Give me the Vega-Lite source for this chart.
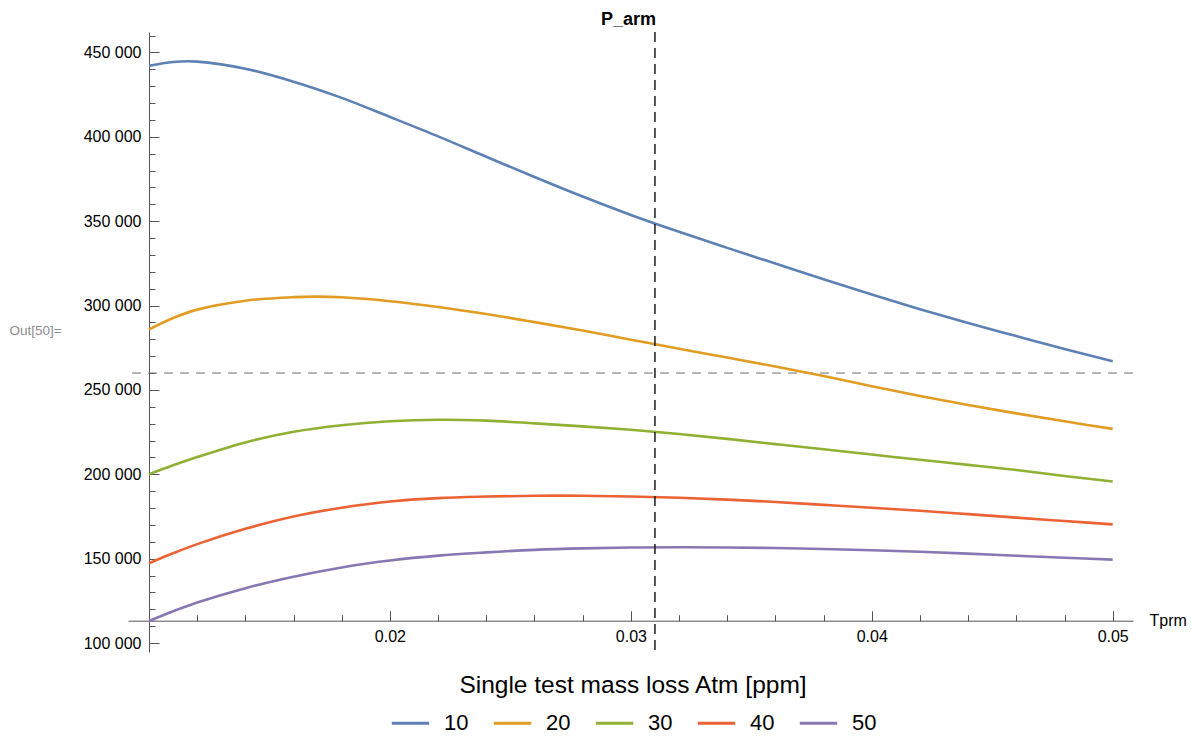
{
  "$schema": "https://vega.github.io/schema/vega-lite/v6.json",
  "width": 1005,
  "height": 620,
  "autosize": "none",
  "padding": {"left": 128, "top": 32, "right": 58, "bottom": 86},
  "background": "white",
  "config": {"view": {"stroke": null}, "axis": {"grid": false}, "font": "Liberation Sans"},
  "datasets": {
    "curves": [
      {"Tprm":0.010,"P":442100,"Atm":"10"},{"Tprm":0.011,"P":444400,"Atm":"10"},{"Tprm":0.012,"P":444600,"Atm":"10"},{"Tprm":0.014,"P":440400,"Atm":"10"},{"Tprm":0.016,"P":432700,"Atm":"10"},{"Tprm":0.018,"P":423100,"Atm":"10"},{"Tprm":0.020,"P":411800,"Atm":"10"},{"Tprm":0.022,"P":400300,"Atm":"10"},{"Tprm":0.024,"P":388200,"Atm":"10"},{"Tprm":0.026,"P":376200,"Atm":"10"},{"Tprm":0.028,"P":364600,"Atm":"10"},{"Tprm":0.030,"P":353700,"Atm":"10"},{"Tprm":0.032,"P":343700,"Atm":"10"},{"Tprm":0.034,"P":334200,"Atm":"10"},{"Tprm":0.036,"P":324900,"Atm":"10"},{"Tprm":0.038,"P":315600,"Atm":"10"},{"Tprm":0.040,"P":306500,"Atm":"10"},{"Tprm":0.042,"P":297800,"Atm":"10"},{"Tprm":0.044,"P":289600,"Atm":"10"},{"Tprm":0.046,"P":281900,"Atm":"10"},{"Tprm":0.048,"P":274300,"Atm":"10"},{"Tprm":0.050,"P":267000,"Atm":"10"},
      {"Tprm":0.010,"P":285800,"Atm":"20"},{"Tprm":0.011,"P":292600,"Atm":"20"},{"Tprm":0.012,"P":297600,"Atm":"20"},{"Tprm":0.014,"P":302900,"Atm":"20"},{"Tprm":0.016,"P":305000,"Atm":"20"},{"Tprm":0.017,"P":305300,"Atm":"20"},{"Tprm":0.018,"P":304900,"Atm":"20"},{"Tprm":0.020,"P":302600,"Atm":"20"},{"Tprm":0.022,"P":299200,"Atm":"20"},{"Tprm":0.024,"P":295000,"Atm":"20"},{"Tprm":0.026,"P":290200,"Atm":"20"},{"Tprm":0.028,"P":285200,"Atm":"20"},{"Tprm":0.030,"P":279800,"Atm":"20"},{"Tprm":0.032,"P":274400,"Atm":"20"},{"Tprm":0.034,"P":269200,"Atm":"20"},{"Tprm":0.036,"P":263900,"Atm":"20"},{"Tprm":0.038,"P":258200,"Atm":"20"},{"Tprm":0.040,"P":252200,"Atm":"20"},{"Tprm":0.042,"P":246400,"Atm":"20"},{"Tprm":0.044,"P":241100,"Atm":"20"},{"Tprm":0.046,"P":236100,"Atm":"20"},{"Tprm":0.048,"P":231400,"Atm":"20"},{"Tprm":0.050,"P":226900,"Atm":"20"},
      {"Tprm":0.010,"P":200000,"Atm":"30"},{"Tprm":0.011,"P":205300,"Atm":"30"},{"Tprm":0.012,"P":210200,"Atm":"30"},{"Tprm":0.014,"P":218900,"Atm":"30"},{"Tprm":0.016,"P":225200,"Atm":"30"},{"Tprm":0.018,"P":229100,"Atm":"30"},{"Tprm":0.020,"P":231400,"Atm":"30"},{"Tprm":0.022,"P":232300,"Atm":"30"},{"Tprm":0.024,"P":231800,"Atm":"30"},{"Tprm":0.026,"P":230200,"Atm":"30"},{"Tprm":0.028,"P":228400,"Atm":"30"},{"Tprm":0.030,"P":226400,"Atm":"30"},{"Tprm":0.032,"P":223900,"Atm":"30"},{"Tprm":0.034,"P":221000,"Atm":"30"},{"Tprm":0.036,"P":217900,"Atm":"30"},{"Tprm":0.038,"P":214800,"Atm":"30"},{"Tprm":0.040,"P":211700,"Atm":"30"},{"Tprm":0.042,"P":208600,"Atm":"30"},{"Tprm":0.044,"P":205600,"Atm":"30"},{"Tprm":0.046,"P":202500,"Atm":"30"},{"Tprm":0.048,"P":199000,"Atm":"30"},{"Tprm":0.050,"P":195700,"Atm":"30"},
      {"Tprm":0.010,"P":147300,"Atm":"40"},{"Tprm":0.011,"P":153200,"Atm":"40"},{"Tprm":0.012,"P":158600,"Atm":"40"},{"Tprm":0.014,"P":167700,"Atm":"40"},{"Tprm":0.016,"P":175000,"Atm":"40"},{"Tprm":0.018,"P":180200,"Atm":"40"},{"Tprm":0.020,"P":183900,"Atm":"40"},{"Tprm":0.022,"P":185900,"Atm":"40"},{"Tprm":0.024,"P":186800,"Atm":"40"},{"Tprm":0.026,"P":187300,"Atm":"40"},{"Tprm":0.028,"P":187300,"Atm":"40"},{"Tprm":0.030,"P":186800,"Atm":"40"},{"Tprm":0.032,"P":186100,"Atm":"40"},{"Tprm":0.034,"P":185000,"Atm":"40"},{"Tprm":0.036,"P":183600,"Atm":"40"},{"Tprm":0.038,"P":181900,"Atm":"40"},{"Tprm":0.040,"P":180200,"Atm":"40"},{"Tprm":0.042,"P":178400,"Atm":"40"},{"Tprm":0.044,"P":176400,"Atm":"40"},{"Tprm":0.046,"P":174300,"Atm":"40"},{"Tprm":0.048,"P":172300,"Atm":"40"},{"Tprm":0.050,"P":170300,"Atm":"40"},
      {"Tprm":0.010,"P":113000,"Atm":"50"},{"Tprm":0.011,"P":118800,"Atm":"50"},{"Tprm":0.012,"P":124000,"Atm":"50"},{"Tprm":0.014,"P":132500,"Atm":"50"},{"Tprm":0.016,"P":139300,"Atm":"50"},{"Tprm":0.018,"P":144800,"Atm":"50"},{"Tprm":0.020,"P":148900,"Atm":"50"},{"Tprm":0.022,"P":151800,"Atm":"50"},{"Tprm":0.024,"P":153700,"Atm":"50"},{"Tprm":0.026,"P":155200,"Atm":"50"},{"Tprm":0.028,"P":156100,"Atm":"50"},{"Tprm":0.030,"P":156600,"Atm":"50"},{"Tprm":0.032,"P":156800,"Atm":"50"},{"Tprm":0.034,"P":156600,"Atm":"50"},{"Tprm":0.036,"P":156300,"Atm":"50"},{"Tprm":0.038,"P":155700,"Atm":"50"},{"Tprm":0.040,"P":155000,"Atm":"50"},{"Tprm":0.042,"P":154100,"Atm":"50"},{"Tprm":0.044,"P":153000,"Atm":"50"},{"Tprm":0.046,"P":151700,"Atm":"50"},{"Tprm":0.048,"P":150500,"Atm":"50"},{"Tprm":0.050,"P":149400,"Atm":"50"}
    ]
  },
  "resolve": {"axis": {"x": "independent", "y": "independent"}},
  "layer": [
    {
      "data": {"values": [{}]},
      "mark": {"type": "rule", "color": "#707070", "strokeWidth": 1, "strokeDash": [9, 7]},
      "encoding": {
        "y": {"datum": 260000, "type": "quantitative",
          "axis": {"orient": "left", "offset": -21, "values": [110000,120000,130000,140000,160000,170000,180000,190000,210000,220000,230000,240000,260000,270000,280000,290000,310000,320000,330000,340000,360000,370000,380000,390000,410000,420000,430000,440000,460000],
            "tickSize": -6, "tickColor": "#555555", "tickWidth": 1, "labels": false, "domain": false, "title": null, "grid": false}}
      }
    },
    {
      "data": {"name": "curves"},
      "mark": {"type": "line", "strokeWidth": 2.6, "interpolate": "catmull-rom"},
      "encoding": {
        "x": {"field": "Tprm", "type": "quantitative",
          "scale": {"domain": [0.009128, 0.050843], "nice": false, "zero": false},
          "axis": {"orient": "bottom", "offset": -31.3, "values": [0.02, 0.03, 0.04, 0.05], "format": ".2f",
            "tickSize": -10, "tickColor": "#555555", "domainColor": "#555555", "labelPadding": 18,
            "labelFont": "Liberation Sans", "labelFontSize": 16, "labelColor": "#000000", "labelFlush": false, "labelOverlap": false,
            "title": "Tprm", "titleX": 1021, "titleY": 0, "titleAlign": "left", "titleBaseline": "middle", "titleAnchor": null,
            "titleFont": "Liberation Sans", "titleFontSize": 16, "titleFontWeight": "normal", "titleColor": "#000000", "grid": false}},
        "y": {"field": "P", "type": "quantitative",
          "scale": {"domain": [94670, 462150], "nice": false, "zero": false},
          "axis": {"orient": "left", "offset": -21, "values": [100000,150000,200000,250000,300000,350000,400000,450000],
            "labelExpr": "replace(format(datum.value, ','), ',', ' ')",
            "tickSize": -10, "tickColor": "#555555", "domainColor": "#555555", "labelPadding": 18,
            "labelFont": "Liberation Sans", "labelFontSize": 16, "labelColor": "#000000", "labelFlush": false, "labelOverlap": false,
            "title": "Out[50]=", "titleAngle": 0, "titleX": -140, "titleY": 298, "titleAlign": "left", "titleBaseline": "middle", "titleAnchor": null,
            "titleFont": "Liberation Sans", "titleFontSize": 13.5, "titleFontWeight": "normal", "titleColor": "#8c8c8c", "grid": false}},
        "color": {"field": "Atm", "type": "nominal",
          "scale": {"domain": ["10","20","30","40","50"], "range": ["#5E81B5","#E19C24","#8FB032","#EB6235","#8778B3"]},
          "legend": {"orient": "none", "legendX": 262, "legendY": 642, "direction": "horizontal", "padding": 0,
            "title": "Single test mass loss Atm [ppm]", "titleFont": "Liberation Sans", "titleFontSize": 24.5, "titleFontWeight": "normal", "titleColor": "#000000",
            "titleAnchor": "middle", "titleOrient": "top", "titlePadding": 4, "titleLimit": 2000,
            "labelFont": "Liberation Sans", "labelFontSize": 22, "labelColor": "#000000", "labelOffset": 13, "labelLimit": 500,
            "symbolType": "stroke", "symbolSize": 1400, "symbolStrokeWidth": 3, "columnPadding": 18}}
      }
    },
    {
      "data": {"values": [{}]},
      "mark": {"type": "rule", "color": "#1a1a1a", "strokeWidth": 1.5, "strokeDash": [10, 6]},
      "encoding": {
        "x": {"datum": 0.031, "type": "quantitative",
          "axis": {"orient": "bottom", "offset": -31.3, "values": [0.012,0.014,0.016,0.018,0.022,0.024,0.026,0.028,0.032,0.034,0.036,0.038,0.042,0.044,0.046,0.048],
            "tickSize": -6, "tickColor": "#555555", "tickWidth": 1, "labels": false, "domain": false, "title": null, "grid": false}}
      }
    },
    {
      "data": {"values": [{}]},
      "mark": {"type": "text", "text": "P_arm", "font": "Liberation Sans", "fontSize": 18, "fontWeight": "bold", "color": "#000000", "align": "right", "baseline": "alphabetic", "dy": -7.5, "dx": 1},
      "encoding": {
        "x": {"datum": 0.031, "type": "quantitative", "axis": null},
        "y": {"datum": 462150, "type": "quantitative", "axis": null}
      }
    }
  ]
}
